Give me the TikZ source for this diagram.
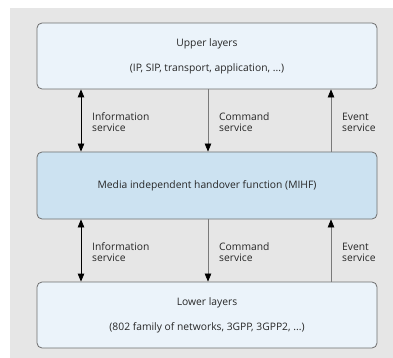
\documentclass[tikz,border=0pt]{standalone}
\usepackage{fontspec}
\setmainfont{Open Sans}
\usetikzlibrary{arrows.meta}
\definecolor{bggray}{HTML}{E6E6E6}
\definecolor{lightbox}{HTML}{EBF3FA}
\definecolor{midbox}{HTML}{CCE2F1}
\definecolor{edgegray}{HTML}{6E6E6E}
\definecolor{linegray}{HTML}{7A7A7A}
\tikzset{
  layerbox/.style={draw=edgegray, line width=0.8pt, rounded corners=5pt,
    minimum width=340pt, minimum height=66pt, inner sep=0pt,
    font=\fontsize{10.3}{13}\selectfont, align=center, text=black!85},
  lbl/.style={anchor=west, align=left, inner sep=0pt,
    font=\fontsize{10.3}{11}\selectfont, text=black!85},
  infoarr/.style={{Triangle[length=8pt,width=6.5pt]}-{Triangle[length=8pt,width=6.5pt]}, draw=black, line width=0.8pt},
  grayarr/.style={draw=linegray, line width=0.6pt, -{Triangle[length=8pt,width=6.5pt,fill=black,color=black]}},
}
\begin{document}
\begin{tikzpicture}[x=1pt,y=1pt]
\useasboundingbox (0,0) rectangle (393,-358);
\fill[bggray] (10,-8) rectangle (393,-358);
\node[layerbox, fill=lightbox] (up) at (207,-56) {Upper layers\\[12pt](IP, SIP, transport, application, ...)};
\node[layerbox, fill=midbox, minimum height=67pt] (mihf) at (207,-185.5) {Media independent handover function (MIHF)};
\node[layerbox, fill=lightbox] (low) at (207,-315) {Lower layers\\[12pt](802 family of networks, 3GPP, 3GPP2, ...)};
\coordinate (ix) at (81,0);
\coordinate (cx) at (208,0);
\coordinate (ex) at (331,0);
% upper arrows
\draw[infoarr] (up.south -| ix) -- (mihf.north -| ix);
\draw[grayarr] (up.south -| cx) -- (mihf.north -| cx);
\draw[grayarr] (mihf.north -| ex) -- (up.south -| ex);
% lower arrows
\draw[infoarr] (mihf.south -| ix) -- (low.north -| ix);
\draw[grayarr] (mihf.south -| cx) -- (low.north -| cx);
\draw[grayarr] (low.north -| ex) -- (mihf.south -| ex);
% labels
\node[lbl] (l1) at (92,-122.5) {Information\\service};
\node[lbl] (l2) at (219,-122.5) {Command\\service};
\node[lbl] (l3) at (342,-122.5) {Event\\service};
\node[lbl] (l4) at (92,-252) {Information\\service};
\node[lbl] (l5) at (219,-252) {Command\\service};
\node[lbl] (l6) at (342,-252) {Event\\service};
\end{tikzpicture}
\end{document}
